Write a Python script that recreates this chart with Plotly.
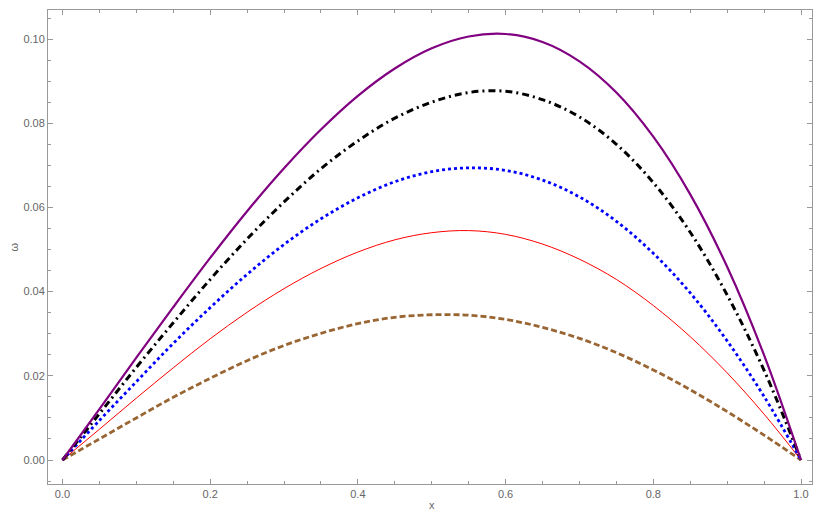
import plotly.graph_objects as go

x_vals = [0.0, 0.05, 0.10, 0.15, 0.20, 0.25, 0.30, 0.35, 0.40, 0.45, 0.50,
          0.55, 0.60, 0.65, 0.70, 0.75, 0.80, 0.85, 0.90, 0.95, 1.0]

purple_vals = [0.0, 0.0121, 0.0243, 0.0363, 0.0480, 0.0591, 0.0693, 0.0785, 0.0865, 0.0930, 0.0978,
               0.1006, 0.1012, 0.0993, 0.0947, 0.0873, 0.0768, 0.0631, 0.0459, 0.0249, 0.0]
black_vals = [0.0, 0.0110, 0.0220, 0.0326, 0.0429, 0.0525, 0.0613, 0.0692, 0.0758, 0.0812, 0.0850,
              0.0873, 0.0876, 0.0856, 0.0815, 0.0750, 0.0659, 0.0541, 0.0392, 0.0213, 0.0]
blue_vals = [0.0, 0.0094, 0.0186, 0.0277, 0.0362, 0.0441, 0.0512, 0.0573, 0.0623, 0.0661, 0.0685,
             0.0694, 0.0688, 0.0665, 0.0625, 0.0567, 0.0491, 0.0397, 0.0283, 0.0151, 0.0]
red_vals = [0.0, 0.0073, 0.0147, 0.0219, 0.0288, 0.0351, 0.0407, 0.0455, 0.0494, 0.0523, 0.0540,
            0.0545, 0.0536, 0.0513, 0.0477, 0.0429, 0.0367, 0.0293, 0.0207, 0.0109, 0.0]
brown_vals = [0.0, 0.0050, 0.0100, 0.0149, 0.0194, 0.0236, 0.0272, 0.0301, 0.0324, 0.0339, 0.0345,
              0.0344, 0.0334, 0.0315, 0.0289, 0.0255, 0.0214, 0.0167, 0.0115, 0.0059, 0.0]

x_ticks = [0.0, 0.2, 0.4, 0.6, 0.8, 1.0]
x_tick_text = ["0.0", "0.2", "0.4", "0.6", "0.8", "1.0"]
y_ticks = [0.00, 0.02, 0.04, 0.06, 0.08, 0.10]
y_tick_text = ["0.00", "0.02", "0.04", "0.06", "0.08", "0.10"]

fig = go.Figure()

series = [
    (brown_vals, "#996633", 2.8, "6px,3px"),
    (red_vals, "#ff0000", 1.0, "solid"),
    (blue_vals, "#0000ff", 2.8, "dot"),
    (black_vals, "#000000", 3.0, "7px,4px,2px,4px"),
    (purple_vals, "#800080", 2.2, "solid"),
]
for vals, color, width, dash in series:
    fig.add_trace(go.Scatter(
        x=x_vals, y=vals, mode="lines",
        line=dict(color=color, width=width, dash=dash, shape="spline", smoothing=1.0),
        showlegend=False, hoverinfo="skip",
    ))

axis_common = dict(
    showgrid=False, zeroline=False, showline=True, linecolor="#999999", linewidth=1,
    mirror="ticks", ticks="inside", ticklen=5, tickcolor="#999999", automargin=False,
    tickfont=dict(family="Liberation Sans, Arial, sans-serif", size=11, color="#666666"),
)

fig.update_layout(
    width=813, height=511,
    margin=dict(l=48, r=1, t=10, b=27, autoexpand=False),
    paper_bgcolor="white", plot_bgcolor="white",
    xaxis=dict(range=[-0.0196, 1.0149], tickvals=x_ticks, ticktext=x_tick_text,
               minor=dict(ticks="inside", dtick=0.05, tick0=0, ticklen=3, tickcolor="#999999"),
               **axis_common),
    yaxis=dict(range=[-0.0057, 0.1069], tickvals=y_ticks, ticktext=y_tick_text,
               minor=dict(ticks="inside", dtick=0.005, tick0=0, ticklen=3, tickcolor="#999999"),
               **axis_common),
    annotations=[
        dict(text="ω", xref="paper", yref="paper", x=-0.045, y=0.5, xanchor="center", yanchor="middle",
             textangle=-90, showarrow=False,
             font=dict(family="Liberation Sans, Arial", size=11, color="#666666")),
        dict(text="x", xref="x", yref="paper", x=0.5, y=-0.0274, xanchor="center", yanchor="top",
             showarrow=False,
             font=dict(family="Liberation Sans, Arial", size=11, color="#666666")),
    ],
)

fig.write_html("out.html", config={"displayModeBar": False},
               post_script="document.body.style.margin='0px';")
